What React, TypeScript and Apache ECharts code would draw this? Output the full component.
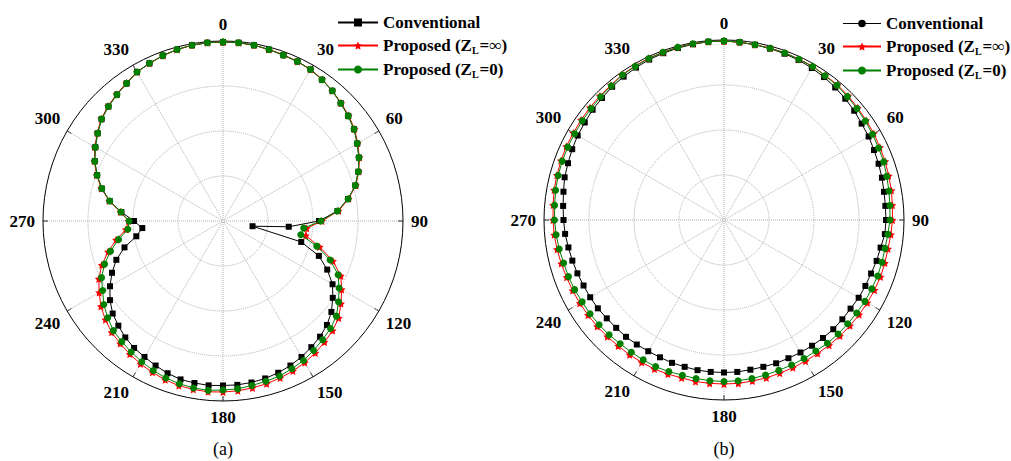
import React, { useEffect, useRef } from "react";
import * as echarts from "echarts";

// angle (deg), 5-degree steps
const angles = Array.from({ length: 72 }, (_, i) => i * 5);

// radial values on a 0-180 scale (outer ring = 180)
// ---------- (a) ----------
const convA = [
  179, 179, 178.5, 177.5, 176.5, 176, 175, 172.5, 170, 166.5, 163.5, 160, 155, 150, 144, 137, 127, 115,
  96, 66, 30, 81, 102, 115, 126.5, 134, 141.5, 147, 151, 154, 157, 159.5, 161.5, 163, 164, 164.5,
  164.5, 165, 164.5, 164, 162, 159.5, 157, 155, 152, 148, 144, 138, 130.5, 122.5, 113.5, 102, 88, 81,
  89, 102, 115, 125.5, 134, 141.5, 147.5, 153, 158.5, 162, 165, 168, 172, 174, 176, 177.5, 178.5, 179,
];
const infA = [
  179, 179, 178.5, 177.5, 177, 176, 175, 173, 170, 167, 164, 160.5, 155.5, 150.5, 144.5, 137.5, 127.5, 116,
  99, 84, 84, 100, 117, 130, 137, 144, 151, 155, 158, 161, 163.5, 165.5, 167, 168.5, 169.5, 170.5,
  171, 171.5, 171, 170.5, 169, 167, 165, 162.5, 160, 157.5, 153.5, 149, 143, 137, 129, 119, 108.5, 97.5,
  94.5, 103, 115.5, 126, 134.5, 142, 148, 153.5, 159, 162.5, 165.5, 168.5, 172, 174, 176, 177.5, 178.5, 179,
];
const zeroA = [
  179, 179, 178.5, 177.5, 176.5, 176, 175, 172.5, 170, 166.5, 163.5, 160, 155, 150, 144, 137, 127, 115,
  98, 81, 79, 97, 114, 127, 134, 141, 148, 152, 155, 158, 161, 163, 165, 166, 167, 168.5,
  169, 170, 169.5, 168.5, 167, 165, 162.5, 160, 157.5, 155, 150.5, 145.5, 139, 134, 126, 116.5, 106, 95.5,
  94, 102.5, 115, 125.5, 134, 141.5, 147.5, 153, 158.5, 162, 165, 168, 172, 174, 176, 177.5, 178.5, 179,
];
// ---------- (b) ----------
const convB = [
  179, 178.5, 178, 177.5, 177, 176.5, 175.5, 174.5, 173, 171.5, 170, 168, 167, 165.5, 164.5, 163.5, 162.5, 162,
  162, 161.5, 159, 158, 156.5, 156, 155.5, 154.5, 154.5, 154.5, 154, 153.5, 153, 152.5, 152.5, 152, 152, 152.5,
  152.5, 152.5, 152.5, 152, 152, 151.5, 151.5, 152, 152.5, 152.5, 153, 154, 154.5, 155, 156, 157, 158, 159.5,
  160.5, 161.5, 163, 165, 166, 167.5, 169, 170, 171.5, 172.5, 174, 175, 176, 177, 177.5, 178, 178.5, 179,
];
const infB = [
  179, 178.5, 178, 178, 178, 177.5, 177.5, 176.5, 176.5, 175.5, 174.5, 173.5, 173, 172, 171.5, 170.5, 170, 169,
  168.5, 167.5, 166.5, 166.5, 166.5, 166, 165.5, 165, 164.5, 164, 163.5, 163, 163, 163, 163, 163.5, 163.5, 164,
  164, 164, 164, 163.5, 164, 164.5, 164.5, 164.5, 164.5, 165, 165.5, 166, 166.5, 167, 167.5, 168.5, 169.5, 170.5,
  171, 171.5, 172.5, 173, 173.5, 174, 174, 174.5, 175, 175.5, 176, 177.5, 178, 178.5, 178.5, 179, 179, 179,
];
const zeroB = [
  179, 178.5, 178, 177.8, 177.8, 177.3, 177.3, 176.2, 175.8, 174.5, 173.5, 172.5, 171.5, 170.5, 170, 168.5, 167.5, 166.5,
  166, 164.5, 163.5, 163.5, 163.5, 163, 162.7, 162, 161.5, 161.3, 160.8, 160, 160, 160, 160, 160.5, 161, 161.3,
  161.5, 161.3, 161, 160.7, 161.3, 161.8, 161.5, 161.5, 161.5, 162.5, 163, 163.5, 163.8, 164.8, 165.5, 166, 167.3, 168.5,
  169.5, 170, 171, 171.7, 172.2, 172.4, 172.5, 173, 173.5, 174.4, 175.2, 177, 177.4, 178.2, 178.5, 178.8, 179, 179,
];

const seriesNames = ["Conventional", "Proposed (ZL=∞)", "Proposed (ZL=0)"];
const angleTicks = { min: 0, max: 360, interval: 30 };
const radiusTicks = { min: 0, max: 180, interval: 45 };

const SERIF = "'Liberation Serif', 'Times New Roman', serif";
const STAR =
  "path://M0,-10 L2.9,-4 9.5,-3.1 4.7,1.5 5.9,8.1 0,5 -5.9,8.1 -4.7,1.5 -9.5,-3.1 -2.9,-4 Z";
const LINE_CIRCLE = "path://M0,4.6 H40 V5.4 H0 Z M20,1 A4,4 0 1,1 20,9 A4,4 0 1,1 20,1 Z";

function toPolar(vals: number[]) {
  const d = vals.map((v, i) => [v, angles[i]]);
  d.push([vals[0], 360]);
  return d;
}

function legendFormatter(name: string) {
  if (name === seriesNames[0]) return "{t|Conventional}";
  if (name === seriesNames[1]) return "{t|Proposed (Z}{s|L}{t|=∞)}";
  return "{t|Proposed (Z}{s|L}{t|=0)}";
}

export default function App() {
  const ref = useRef<HTMLDivElement>(null);
  useEffect(() => {
    const chart = echarts.init(ref.current!, null, { renderer: "svg" });
    const centers = [
      [223, 221],
      [724, 220],
    ];
    const angleAxis = centers.map((_, i) => ({
      polarIndex: i,
      type: "value",
      ...angleTicks,
      startAngle: 90,
      clockwise: true,
      axisLine: { lineStyle: { color: "#000", width: 1 } },
      axisTick: { show: true, inside: true, length: 5, lineStyle: { color: "#000" } },
      axisLabel: {
        margin: 8,
        color: "#000",
        fontFamily: SERIF,
        fontWeight: "bold",
        fontSize: 17,
      },
      splitLine: { lineStyle: { type: "dotted", color: "#b0b0b0" } },
    }));
    const radiusAxis = centers.map((_, i) => ({
      polarIndex: i,
      type: "value",
      ...radiusTicks,
      axisLine: { show: false },
      axisTick: { show: false },
      axisLabel: { show: false },
      splitLine: {
        lineStyle: {
          type: "dotted",
          color: ["#b0b0b0", "#b0b0b0", "#b0b0b0", "#b0b0b0", "rgba(0,0,0,0)"],
        },
      },
    }));
    const mk = (name: string, data: number[], polarIndex: number, kind: number) => {
      const color = kind === 0 ? "#000000" : kind === 1 ? "#ff0000" : "#008000";
      return {
        name,
        type: "line",
        coordinateSystem: "polar",
        polarIndex,
        data: toPolar(data),
        symbol: kind === 0 ? "rect" : kind === 1 ? STAR : "circle",
        symbolSize: kind === 0 ? 6 : kind === 1 ? 8 : 7,
        lineStyle: { color, width: 1 },
        itemStyle: { color },
        z: 2 + kind,
      };
    };
    const richText = {
      t: { fontFamily: SERIF, fontWeight: "bold", fontSize: 17, color: "#000" },
      s: { fontFamily: SERIF, fontWeight: "bold", fontSize: 10, color: "#000", padding: [9, 1, 0, 0] },
    };
    const legendBase = {
      orient: "vertical",
      padding: 0,
      itemHeight: 10,
      itemGap: 6,
      formatter: legendFormatter,
      textStyle: { fontFamily: SERIF, fontWeight: "bold", fontSize: 17, color: "#000", rich: richText },
    };
    chart.setOption({
      animation: false,
      backgroundColor: "#fff",
      polar: centers.map((c) => ({ center: c, radius: 180 })),
      angleAxis,
      radiusAxis,
      legend: [
        { ...legendBase, left: 337, top: 14, itemWidth: 40, data: seriesNames },
        {
          ...legendBase,
          left: 842,
          top: 15,
          itemWidth: 38,
          data: [{ name: seriesNames[0], icon: LINE_CIRCLE }, seriesNames[1], seriesNames[2]],
        },
      ],
      graphic: [
        {
          type: "text",
          x: 223,
          y: 449,
          style: { text: "(a)", fill: "#000", font: "18px 'Liberation Serif'", textAlign: "center", textVerticalAlign: "middle" },
        },
        {
          type: "text",
          x: 724,
          y: 449,
          style: { text: "(b)", fill: "#000", font: "18px 'Liberation Serif'", textAlign: "center", textVerticalAlign: "middle" },
        },
      ],
      series: [
        mk(seriesNames[0], convA, 0, 0),
        mk(seriesNames[1], infA, 0, 1),
        mk(seriesNames[2], zeroA, 0, 2),
        mk(seriesNames[0], convB, 1, 0),
        mk(seriesNames[1], infB, 1, 1),
        mk(seriesNames[2], zeroB, 1, 2),
      ],
    });
    return () => chart.dispose();
  }, []);
  return (
    <div
      ref={ref}
      style={{ position: "fixed", left: 0, top: 0, width: 1011, height: 461, background: "#fff" }}
    />
  );
}
